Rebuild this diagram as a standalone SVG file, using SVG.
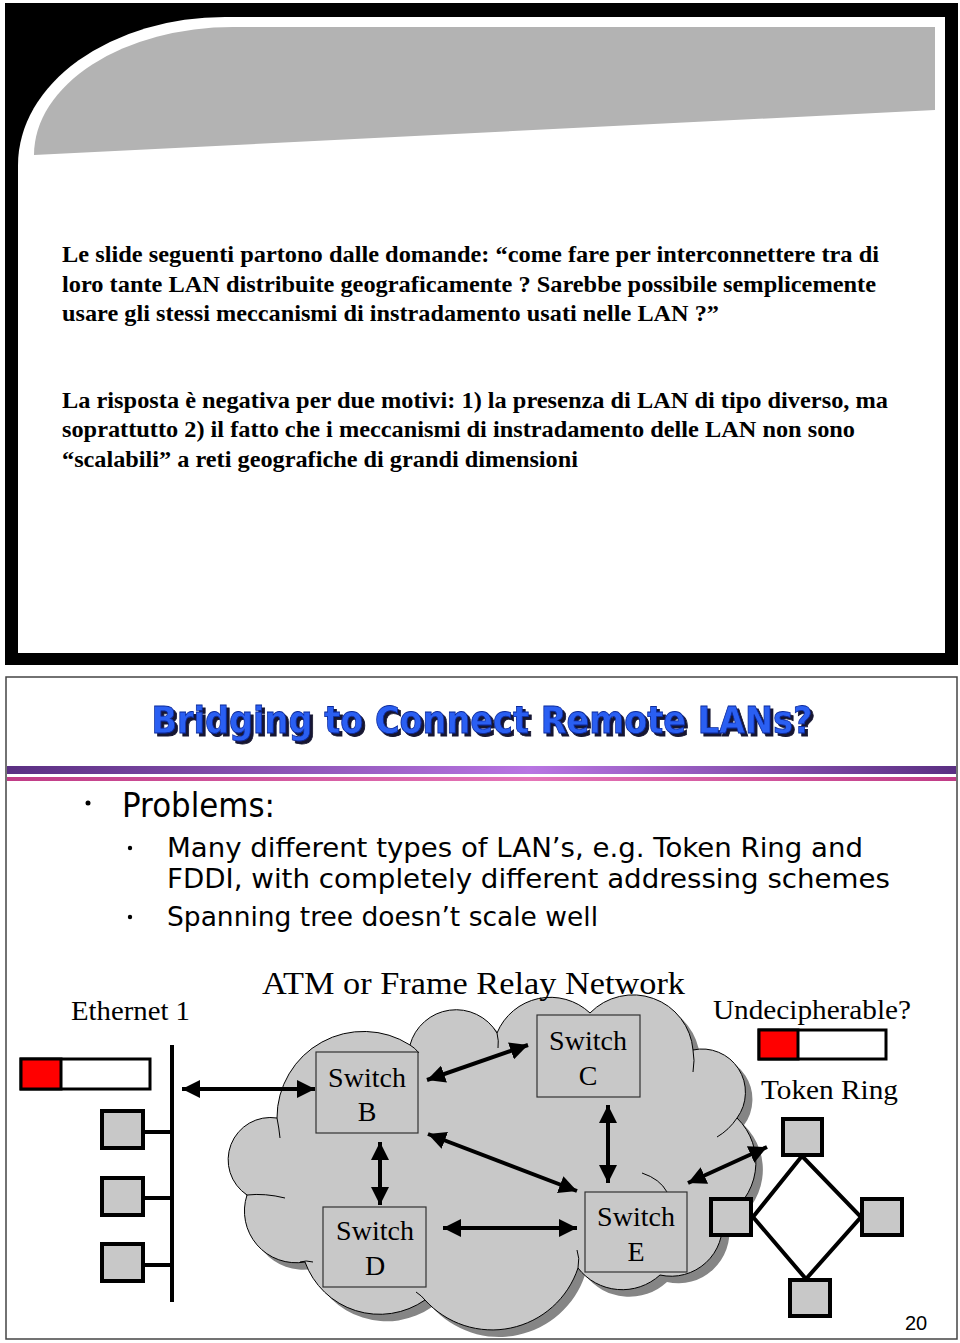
<svg xmlns="http://www.w3.org/2000/svg" width="960" height="1343" viewBox="0 0 960 1343">
<style>
.it{font-family:"Liberation Serif","Times New Roman",serif;font-weight:bold;font-size:24px;fill:#000}
.tm{font-family:"Liberation Serif","Times New Roman",serif;fill:#000}
.cm{font-family:"DejaVu Sans","Noto Sans",sans-serif;fill:#000}
.box{fill:#c8c8c8;stroke:#333;stroke-width:1.2}
.st{fill:#c8c8c8;stroke:#000;stroke-width:4}
.ln{stroke:#000;stroke-width:4;fill:none}
.ar{stroke:#000;stroke-width:4;fill:none;marker-start:url(#ah);marker-end:url(#ah)}
.stub{fill:none;stroke:#000;stroke-width:1}
</style>
<defs>
<marker id="ah" markerUnits="userSpaceOnUse" markerWidth="20" markerHeight="18" refX="18" refY="9" orient="auto-start-reverse">
<path d="M0,0 L18,9 L0,18 Z" fill="#000"/>
</marker>
<linearGradient id="pg" x1="0" y1="0" x2="1" y2="0">
<stop offset="0" stop-color="#5a2f82"/><stop offset="0.55" stop-color="#b875e2"/><stop offset="1" stop-color="#5a2f82"/>
</linearGradient>
<linearGradient id="kg" x1="0" y1="0" x2="1" y2="0">
<stop offset="0" stop-color="#c03c86"/><stop offset="0.55" stop-color="#e676b8"/><stop offset="1" stop-color="#c03c86"/>
</linearGradient>
<filter id="sh" x="-5%" y="-20%" width="110%" height="150%">
<feOffset in="SourceAlpha" dx="3" dy="3" result="o"/>
<feFlood flood-color="#141430"/>
<feComposite in2="o" operator="in" result="s"/>
<feMerge><feMergeNode in="s"/><feMergeNode in="SourceGraphic"/></feMerge>
</filter>
<path id="cloud" d="M277,1118 A86.5,86.5 0 0 1 410,1045 A47.7,47.7 0 0 1 497,1033 A57.8,57.8 0 0 1 590,1013 A60.2,60.2 0 0 1 693,1050 A43.3,43.3 0 0 1 737,1118 A62.2,62.2 0 0 1 722,1218 A51.3,51.3 0 0 1 660,1275 A55.9,55.9 0 0 1 578,1268 A90.4,90.4 0 0 1 425,1300 A79.3,79.3 0 0 1 305,1262 A51.7,51.7 0 0 1 247,1195 A42.3,42.3 0 0 1 277,1118 Z"/>
</defs>

<!-- top slide -->
<g id="top-slide">
<rect x="5" y="3" width="953" height="662" fill="#000"/>
<path d="M18,653 L18,165 A207,148 0 0 1 225,17 L945,17 L945,653 Z" fill="#fff"/>
<path d="M34,155 A199,128 0 0 1 233,27 L935,27 L935,110 Z" fill="#b3b3b3"/>
<text class="it" x="62" y="262" textLength="817" lengthAdjust="spacingAndGlyphs">Le slide seguenti partono dalle domande: “come fare per interconnettere tra di</text>
<text class="it" x="62" y="292" textLength="814" lengthAdjust="spacingAndGlyphs">loro tante LAN distribuite geograficamente ? Sarebbe possibile semplicemente</text>
<text class="it" x="62" y="321" textLength="657" lengthAdjust="spacingAndGlyphs">usare gli stessi meccanismi di instradamento usati nelle LAN ?”</text>
<text class="it" x="62" y="408" textLength="826" lengthAdjust="spacingAndGlyphs">La risposta è negativa per due motivi: 1) la presenza di LAN di tipo diverso, ma</text>
<text class="it" x="62" y="437" textLength="793" lengthAdjust="spacingAndGlyphs">soprattutto 2) il fatto che i meccanismi di instradamento delle LAN non sono</text>
<text class="it" x="62" y="467" textLength="516" lengthAdjust="spacingAndGlyphs">“scalabili” a reti geografiche di grandi dimensioni</text>
</g>

<!-- bottom slide -->
<g id="bottom-slide">
<rect x="6" y="677" width="951" height="662" fill="#fff" stroke="#444" stroke-width="1.5"/>
<text x="482" y="733" text-anchor="middle" font-family="DejaVu Sans,sans-serif" font-weight="bold" font-size="38" fill="#2a5ef2" stroke="#0c2a9a" stroke-width="0.8" textLength="661" lengthAdjust="spacingAndGlyphs" filter="url(#sh)">Bridging to Connect Remote LANs?</text>
<rect x="7" y="766" width="949" height="8" fill="url(#pg)"/>
<rect x="7" y="777" width="949" height="4" fill="url(#kg)"/>
<circle cx="88" cy="803" r="2.5" fill="#000"/>
<text class="cm" x="122" y="817" font-size="34" textLength="153" lengthAdjust="spacingAndGlyphs">Problems:</text>
<circle cx="130" cy="848" r="2.2" fill="#000"/>
<text class="cm" x="167" y="857" font-size="27" textLength="696" lengthAdjust="spacingAndGlyphs">Many different types of LAN’s, e.g. Token Ring and</text>
<text class="cm" x="167" y="888" font-size="27" textLength="723" lengthAdjust="spacingAndGlyphs">FDDI, with completely different addressing schemes</text>
<circle cx="130" cy="917" r="2.2" fill="#000"/>
<text class="cm" x="167" y="926" font-size="27" textLength="431" lengthAdjust="spacingAndGlyphs">Spanning tree doesn’t scale well</text>
<text x="905" y="1330" font-family="Liberation Sans,Arial,sans-serif" font-size="20" fill="#000">20</text>
</g>

<!-- cloud -->
<g id="network-cloud">
<use href="#cloud" transform="translate(7,7)" fill="#858585"/>
<use href="#cloud" fill="#c8c8c8" stroke="#000" stroke-width="1"/>
<path class="stub" d="M277,1118 Q279,1128 280,1138"/>
<path class="stub" d="M410,1045 Q415,1048 419,1053"/>
<path class="stub" d="M497,1033 Q499,1041 498,1048"/>
<path class="stub" d="M693,1050 Q695,1060 693,1072"/>
<path class="stub" d="M737,1118 Q729,1130 717,1137"/>
<path class="stub" d="M642,1173 Q660,1179 667,1192"/>
<path class="stub" d="M578,1268 Q580,1258 577,1250"/>
<path class="stub" d="M425,1300 Q422,1296 416,1292"/>
<path class="stub" d="M300,1262 Q306,1260 313,1262"/>
<path class="stub" d="M247,1195 Q265,1193 285,1198"/>
<text class="tm" x="262" y="994" font-size="31" textLength="423" lengthAdjust="spacingAndGlyphs">ATM or Frame Relay Network</text>
</g>

<!-- ethernet -->
<g id="ethernet1">
<text class="tm" x="71" y="1020" font-size="27" textLength="119" lengthAdjust="spacingAndGlyphs">Ethernet 1</text>
<rect x="21" y="1059" width="129" height="30" fill="#fff" stroke="#000" stroke-width="3"/>
<rect x="21" y="1059" width="40" height="30" fill="#f00" stroke="#000" stroke-width="3"/>
<line class="ln" x1="172" y1="1045" x2="172" y2="1302"/>
<rect class="st" x="102" y="1111" width="41" height="37"/>
<rect class="st" x="102" y="1178" width="41" height="37"/>
<rect class="st" x="102" y="1244" width="41" height="37"/>
<line class="ln" x1="143" y1="1132" x2="172" y2="1132"/>
<line class="ln" x1="143" y1="1198" x2="172" y2="1198"/>
<line class="ln" x1="143" y1="1265" x2="172" y2="1265"/>
</g>

<!-- switches -->
<g id="switch-b">
<rect class="box" x="316" y="1052" width="102" height="81"/>
<text class="tm" x="367" y="1087" font-size="28" text-anchor="middle">Switch</text>
<text class="tm" x="367" y="1121" font-size="28" text-anchor="middle">B</text>
</g>
<g id="switch-c">
<rect class="box" x="537" y="1015" width="103" height="82"/>
<text class="tm" x="588" y="1050" font-size="28" text-anchor="middle">Switch</text>
<text class="tm" x="588" y="1085" font-size="28" text-anchor="middle">C</text>
</g>
<g id="switch-d">
<rect class="box" x="323" y="1207" width="103" height="80"/>
<text class="tm" x="375" y="1240" font-size="28" text-anchor="middle">Switch</text>
<text class="tm" x="375" y="1275" font-size="28" text-anchor="middle">D</text>
</g>
<g id="switch-e">
<rect class="box" x="585" y="1192" width="102" height="80"/>
<text class="tm" x="636" y="1226" font-size="28" text-anchor="middle">Switch</text>
<text class="tm" x="636" y="1261" font-size="28" text-anchor="middle">E</text>
</g>

<!-- token ring -->
<g id="token-ring">
<text class="tm" x="713" y="1019" font-size="27" textLength="198" lengthAdjust="spacingAndGlyphs">Undecipherable?</text>
<rect x="759" y="1030" width="127" height="29" fill="#fff" stroke="#000" stroke-width="3"/>
<rect x="759" y="1030" width="39" height="29" fill="#f00" stroke="#000" stroke-width="3"/>
<text class="tm" x="761" y="1099" font-size="27" textLength="137" lengthAdjust="spacingAndGlyphs">Token Ring</text>
<path class="ln" d="M802,1156 L753,1217 L806,1279 L861,1217 Z"/>
<rect class="st" x="783" y="1119" width="39" height="36"/>
<rect class="st" x="711" y="1199" width="40" height="36"/>
<rect class="st" x="862" y="1199" width="40" height="36"/>
<rect class="st" x="790" y="1280" width="40" height="36"/>
</g>

<!-- connectors -->
<g id="connectors">
<line class="ar" x1="182" y1="1089" x2="315" y2="1089"/>
<line class="ar" x1="427" y1="1080" x2="528" y2="1045"/>
<line class="ar" x1="428" y1="1134" x2="577" y2="1191"/>
<line class="ar" x1="380" y1="1142" x2="380" y2="1205"/>
<line class="ar" x1="443" y1="1228" x2="577" y2="1228"/>
<line class="ar" x1="608" y1="1105" x2="608" y2="1183"/>
<line class="ar" x1="688" y1="1183" x2="767" y2="1147"/>
</g>
</svg>
